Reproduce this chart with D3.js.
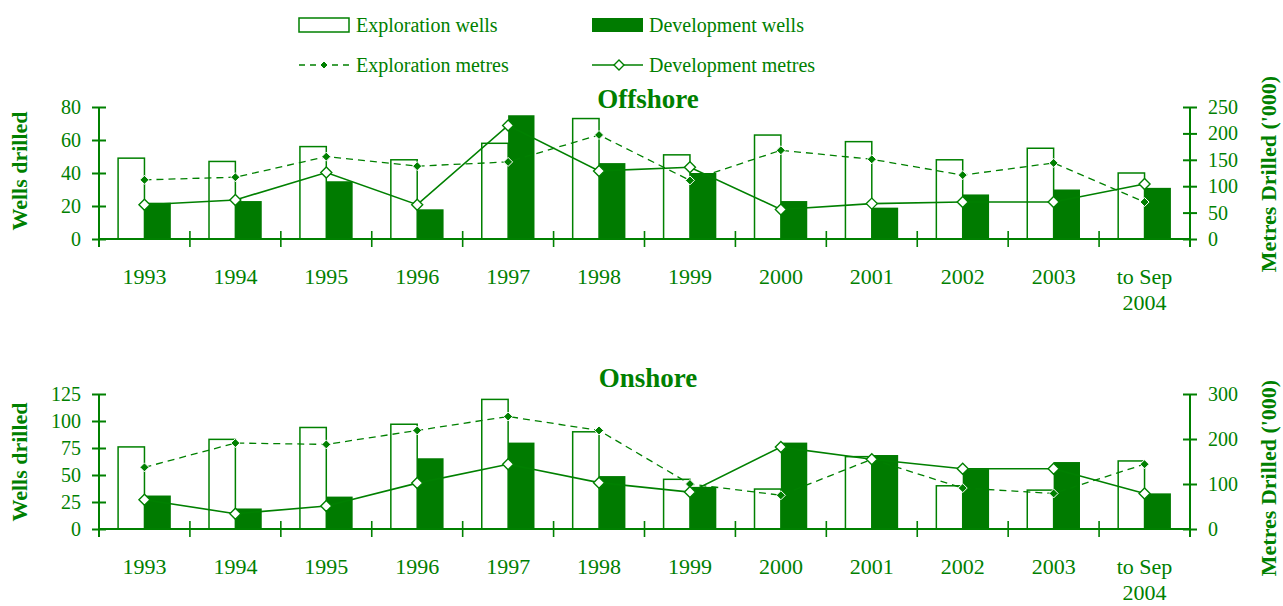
<!DOCTYPE html>
<html>
<head>
<meta charset="utf-8">
<script src="https://cdn.jsdelivr.net/npm/d3@7"></script>
<style>
  body { margin: 0; background: #fff; }
  svg { display: block; font-family: "Liberation Serif", "Times New Roman", serif; }
  text { fill: #008000; }
</style>
</head>
<body>
<script>
// categories (shared by both panels)
var categories = ['1993', '1994', '1995', '1996', '1997', '1998', '1999', '2000', '2001', '2002', '2003', 'to Sep 2004'];

// offshore series
var offExplWells = [49, 47, 56, 48, 58, 73, 51, 63, 59, 48, 55, 40];
var offDevWells = [22, 23, 35, 18, 75, 46, 40, 23, 19, 27, 30, 31];
var offExplMetres = [112, 117, 156, 138, 146, 197, 111, 168, 151, 121, 144, 70];
var offDevMetres = [65, 74, 126, 65, 215, 129, 136, 56, 67, 70, 70, 104];

// onshore series
var onExplWells = [76, 83, 94, 97, 120, 90, 46, 37, 67, 40, 36, 63];
var onDevWells = [31, 19, 30, 65.5, 80, 49, 39, 80, 68.5, 55.5, 62, 33];
var onExplMetres = [137, 191, 188, 219, 250, 219, 100, 75, 155, 91, 79, 144];
var onDevMetres = [65, 34, 51, 102, 144, 103, 82, 182, 155, 134, 134, 79];

// tick labels
var offLeftTicks = [0, 20, 40, 60, 80];
var offRightTicks = [0, 50, 100, 150, 200, 250];
var onLeftTicks = [0, 25, 50, 75, 100, 125];
var onRightTicks = [0, 100, 200, 300];

var green = '#008000';
var devFill = '#007b00';

var width = 1283, height = 606;
var xLeft = 99, xRight = 1190;

var svg = d3.select('body').append('svg')
  .attr('width', width)
  .attr('height', height);

var x = d3.scaleBand().domain(categories).range([xLeft, xRight]);
var barW = x.bandwidth() * 0.29;

function diamond(r) {
  return 'M0,' + (-r) + 'L' + r + ',0L0,' + r + 'L' + (-r) + ',0Z';
}

function drawPanel(p) {
  var g = svg.append('g');
  var yL = d3.scaleLinear().domain([0, p.leftTicks[p.leftTicks.length - 1]]).range([p.bottom, p.top]);
  var yR = d3.scaleLinear().domain([0, p.rightTicks[p.rightTicks.length - 1]]).range([p.bottom, p.top]);

  var rows = categories.map(function(c, i) {
    return { c: c, ew: p.explWells[i], dw: p.devWells[i], em: p.explMetres[i], dm: p.devMetres[i] };
  });

  // exploration wells (hollow bars)
  g.selectAll('rect.expl').data(rows).enter().append('rect')
    .attr('class', 'expl')
    .attr('x', function(d) { return x(d.c) + x.bandwidth() / 2 - barW; })
    .attr('y', function(d) { return yL(d.ew); })
    .attr('width', barW)
    .attr('height', function(d) { return p.bottom - yL(d.ew); })
    .attr('fill', '#fff')
    .attr('stroke', green)
    .attr('stroke-width', 1.5);

  // development wells (filled bars)
  g.selectAll('rect.dev').data(rows).enter().append('rect')
    .attr('class', 'dev')
    .attr('x', function(d) { return x(d.c) + x.bandwidth() / 2; })
    .attr('y', function(d) { return yL(d.dw); })
    .attr('width', barW)
    .attr('height', function(d) { return p.bottom - yL(d.dw); })
    .attr('fill', devFill);

  var cx = function(d) { return x(d.c) + x.bandwidth() / 2; };

  // exploration metres line (dashed)
  g.append('path').datum(rows)
    .attr('fill', 'none')
    .attr('stroke', green)
    .attr('stroke-width', 1.3)
    .attr('stroke-dasharray', '7,5')
    .attr('d', d3.line().x(cx).y(function(d) { return yR(d.em); }));

  // development metres line (solid)
  g.append('path').datum(rows)
    .attr('fill', 'none')
    .attr('stroke', green)
    .attr('stroke-width', 1.6)
    .attr('d', d3.line().x(cx).y(function(d) { return yR(d.dm); }));

  g.selectAll('path.em').data(rows).enter().append('path')
    .attr('class', 'em')
    .attr('transform', function(d) { return 'translate(' + cx(d) + ',' + yR(d.em) + ')'; })
    .attr('d', diamond(4.5))
    .attr('fill', green)
    .attr('stroke', '#fff')
    .attr('stroke-width', 1);

  g.selectAll('path.dm').data(rows).enter().append('path')
    .attr('class', 'dm')
    .attr('transform', function(d) { return 'translate(' + cx(d) + ',' + yR(d.dm) + ')'; })
    .attr('d', diamond(5.5))
    .attr('fill', '#fff')
    .attr('stroke', green)
    .attr('stroke-width', 1.4);

  // x axis line and category boundary ticks
  g.append('line')
    .attr('x1', xLeft).attr('x2', xRight)
    .attr('y1', p.bottom).attr('y2', p.bottom)
    .attr('stroke', green).attr('stroke-width', 2);
  g.selectAll('line.xtick').data(categories.slice(1)).enter().append('line')
    .attr('class', 'xtick')
    .attr('x1', function(d) { return x(d); })
    .attr('x2', function(d) { return x(d); })
    .attr('y1', p.bottom - 8).attr('y2', p.bottom + 8)
    .attr('stroke', green).attr('stroke-width', 1.6);

  // category labels
  var lab = g.selectAll('text.xlab').data(categories).enter().append('text')
    .attr('class', 'xlab')
    .attr('text-anchor', 'middle')
    .attr('font-size', 22)
    .attr('x', function(d) { return x(d) + x.bandwidth() / 2; })
    .attr('y', p.bottom + 45);
  lab.each(function(d) {
    var t = d3.select(this);
    if (d.indexOf('to Sep') === 0) {
      t.append('tspan').attr('x', x(d) + x.bandwidth() / 2).text('to Sep');
      t.append('tspan').attr('x', x(d) + x.bandwidth() / 2).attr('dy', 26).text(d.replace('to Sep ', ''));
    } else {
      t.text(d);
    }
  });

  // left axis
  var axL = g.append('g')
    .attr('transform', 'translate(' + xLeft + ',0)')
    .call(d3.axisLeft(yL).tickValues(p.leftTicks).tickSize(8).tickSizeOuter(0).tickPadding(10));
  // right axis
  var axR = g.append('g')
    .attr('transform', 'translate(' + xRight + ',0)')
    .call(d3.axisRight(yR).tickValues(p.rightTicks).tickSize(8).tickSizeOuter(0).tickPadding(10));

  [axL, axR].forEach(function(ax) {
    ax.select('.domain').remove();
    ax.selectAll('.tick line').attr('x1', -7).attr('x2', 7).attr('stroke', green).attr('stroke-width', 2);
    ax.selectAll('.tick text').attr('fill', green).attr('font-size', 20)
      .attr('font-family', '"Liberation Serif", serif');
    ax.append('line')
      .attr('y1', p.top).attr('y2', p.bottom + 8)
      .attr('stroke', green).attr('stroke-width', 2);
  });

  // titles
  g.append('text')
    .attr('x', 648).attr('y', p.titleY)
    .attr('text-anchor', 'middle')
    .attr('font-size', 27)
    .attr('font-weight', 'bold')
    .text(p.title);

  g.append('text')
    .attr('transform', 'translate(27,' + p.leftTitleY + ') rotate(-90)')
    .attr('text-anchor', 'middle')
    .attr('font-size', 22)
    .attr('font-weight', 'bold')
    .text('Wells drilled');

  g.append('text')
    .attr('transform', 'translate(1276,' + p.rightTitleY + ') rotate(-90)')
    .attr('text-anchor', 'middle')
    .attr('font-size', 22)
    .attr('font-weight', 'bold')
    .text("Metres Drilled ('000)");
}

drawPanel({
  top: 107, bottom: 239, title: 'Offshore', titleY: 108,
  leftTitleY: 171, rightTitleY: 174,
  leftTicks: offLeftTicks, rightTicks: offRightTicks,
  explWells: offExplWells, devWells: offDevWells,
  explMetres: offExplMetres, devMetres: offDevMetres
});

drawPanel({
  top: 394, bottom: 529, title: 'Onshore', titleY: 387,
  leftTitleY: 462, rightTitleY: 478,
  leftTicks: onLeftTicks, rightTicks: onRightTicks,
  explWells: onExplWells, devWells: onDevWells,
  explMetres: onExplMetres, devMetres: onDevMetres
});

// legend
var legend = svg.append('g').attr('font-size', 20);
legend.append('rect').attr('x', 299).attr('y', 18).attr('width', 50).attr('height', 14)
  .attr('fill', '#fff').attr('stroke', green).attr('stroke-width', 1.5);
legend.append('text').attr('x', 356).attr('y', 32).text('Exploration wells');

legend.append('rect').attr('x', 592).attr('y', 18).attr('width', 51).attr('height', 14)
  .attr('fill', devFill);
legend.append('text').attr('x', 649).attr('y', 32).text('Development wells');

legend.append('line').attr('x1', 299).attr('x2', 349).attr('y1', 65).attr('y2', 65)
  .attr('stroke', green).attr('stroke-width', 1.3).attr('stroke-dasharray', '6,5');
legend.append('path').attr('transform', 'translate(324,65)').attr('d', diamond(4))
  .attr('fill', green).attr('stroke', '#fff').attr('stroke-width', 1);
legend.append('text').attr('x', 356).attr('y', 72).text('Exploration metres');

legend.append('line').attr('x1', 592).attr('x2', 643).attr('y1', 65).attr('y2', 65)
  .attr('stroke', green).attr('stroke-width', 1.6);
legend.append('path').attr('transform', 'translate(619,65)').attr('d', diamond(5))
  .attr('fill', '#fff').attr('stroke', green).attr('stroke-width', 1.4);
legend.append('text').attr('x', 649).attr('y', 72).text('Development metres');
</script>
</body>
</html>
